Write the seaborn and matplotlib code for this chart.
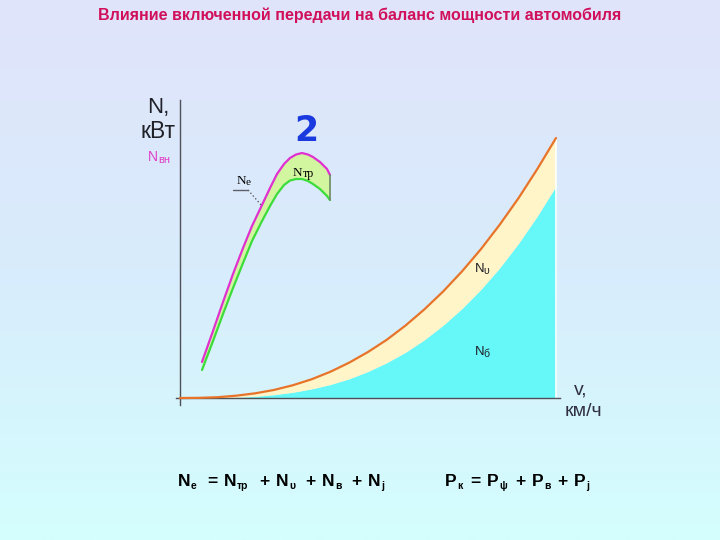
import numpy as np
import pandas as pd
import matplotlib
matplotlib.use("Agg")
import matplotlib.pyplot as plt
from matplotlib.colors import LinearSegmentedColormap
from matplotlib.lines import Line2D
import seaborn as sns

# ---------------- data ----------------
# speed grid (arbitrary units, 0..100 = axis span of the resistance curves)
v = [0, 5, 10, 15, 20, 25, 30, 35, 40, 45, 50, 55, 60, 65, 70, 75, 80, 85, 90, 95, 100]
# N_psi + N_w : total resistance power (orange line)
N_total = [0, 0.06, 0.3, 0.9, 1.8, 3.1, 4.9, 7.2, 10.1, 13.6, 17.7, 22.4, 27.9, 34.1,
           41.0, 48.7, 57.2, 66.6, 76.8, 88.0, 100.0]
# N_psi : road resistance power (cyan area)
N_psi = [0, 0.01, 0.08, 0.28, 0.65, 1.27, 2.2, 3.5, 5.2, 7.4, 10.2, 13.6, 17.6, 22.4,
         28.0, 34.4, 41.7, 50.0, 59.4, 69.9, 81.5]

# engine power curve for 2nd gear
v_e = [5.85, 8.78, 11.44, 14.10, 16.76, 19.15, 21.81, 23.94, 25.80, 27.66, 29.26,
       30.85, 32.45, 34.04, 35.37, 37.23, 39.10, 39.89]
N_e = [13.85, 25.77, 36.92, 47.69, 57.69, 66.15, 74.23, 80.77, 86.15, 90.0, 92.31,
       93.65, 94.23, 93.65, 92.69, 90.77, 88.08, 85.77]                    # magenta
N_e_tr = [10.77, 21.92, 32.31, 42.31, 51.92, 60.38, 68.08, 73.85, 78.46, 81.92, 83.65,
          84.23, 84.23, 83.46, 82.31, 80.38, 77.69, 76.15]                  # green

title = "Влияние включенной передачи на баланс мощности автомобиля"

# ---------------- figure ----------------
sns.set_theme(style="white")
plt.rcParams["font.family"] = ["Liberation Sans", "DejaVu Sans"]

W, H = 720, 540
fig = plt.figure(figsize=(7.2, 5.4), dpi=100)

# gradient background
bg = fig.add_axes([0, 0, 1, 1])
bg.axis("off")
grad = np.linspace(0, 1, 256)[:, None]
cmap = LinearSegmentedColormap.from_list("bg", ["#E0E4FA", "#D8ECFC", "#D4FEFE"])
bg.imshow(grad, aspect="auto", cmap=cmap, extent=[0, 1, 0, 1], origin="upper")
bg.set_xlim(0, 1)
bg.set_ylim(0, 1)

# main axes in pixel layout
X0, Y0 = 180, 398      # origin in pixels
sx, sy = 3.76, 2.6     # pixels per unit
left_px, right_px, top_px, bot_px = 176, 560, 100, 405
ax = fig.add_axes([left_px / W, 1 - bot_px / H, (right_px - left_px) / W, (bot_px - top_px) / H])
ax.set_xlim((left_px - X0) / sx, (right_px - X0) / sx)
ax.set_ylim((Y0 - bot_px) / sy, (Y0 - top_px) / sy)
ax.patch.set_alpha(0)
for s in ["top", "right"]:
    ax.spines[s].set_visible(False)
for s in ["left", "bottom"]:
    ax.spines[s].set_position(("data", 0))
    ax.spines[s].set_color("#505058")
    ax.spines[s].set_linewidth(1.0)
ax.set_xticks([])
ax.set_yticks([])

df = pd.DataFrame({"v": v, "total": N_total, "psi": N_psi})
de = pd.DataFrame({"v": v_e, "ne": N_e, "netr": N_e_tr})

# resistance areas
ax.fill_between(df["v"], 0, df["psi"], color="#66F8F8", lw=0, zorder=1)
ax.fill_between(df["v"], df["psi"], df["total"], color="#FFF5C8", lw=0, zorder=1)
sns.lineplot(data=df, x="v", y="total", color="#E8742A", lw=1.6, ax=ax,
             sort=False, estimator=None, zorder=3)
ax.plot([df["v"].iloc[-1]] * 2, [0, df["total"].iloc[-1]], color="white", lw=1.2, zorder=2)

# engine power band
ax.fill_between(de["v"], de["netr"], de["ne"], color="#D2F5A0", lw=0, zorder=1)
sns.lineplot(data=de, x="v", y="ne", color="#E030D0", lw=1.6, ax=ax,
             sort=False, estimator=None, zorder=3)
sns.lineplot(data=de, x="v", y="netr", color="#3CDC3C", lw=1.6, ax=ax,
             sort=False, estimator=None, zorder=3)
ax.plot([de["v"].iloc[-1]] * 2, [de["netr"].iloc[-1], de["ne"].iloc[-1]],
        color="#6A8A6A", lw=1.2, zorder=3)
ax.set_xlabel("")
ax.set_ylabel("")

# ---------------- texts ----------------
SANS = ["Liberation Sans", "DejaVu Sans"]
SERIF = ["Liberation Serif", "DejaVu Serif"]


def ftext(x, y, s, **kw):
    return fig.text(x / W, 1 - y / H, s, **kw)


def place(y_base, parts, size, color="black", weight="normal", family=SANS,
          sub_scale=0.62, drop=3):
    for x, s, kind in parts:
        fs = size * sub_scale if kind == "s" else size
        yy = y_base + (drop if kind == "s" else 0)
        ftext(x, yy, s, fontsize=fs, color=color, fontweight=weight,
              family=family, ha="left", va="baseline")


ftext(360, 15, title, ha="center", va="center", fontsize=11.5, fontweight="bold",
      color="#D0105A")

ftext(158, 107, "N,", ha="center", va="center", fontsize=16, color="#202028")
ftext(158, 131, "кВт", ha="center", va="center", fontsize=16.5, color="#202028")
place(161, [(148, "N", "m"), (158, "вн", "s")], 10, color="#E040C8", drop=2, sub_scale=0.8)

ftext(306, 131, "2", ha="center", va="center", fontsize=25, fontweight="bold",
      color="#1A3AE0", family=["DejaVu Sans"])

place(176, [(293, "N", "m"), (302.5, "тр", "s")], 9.5, family=SERIF, sub_scale=0.9, drop=1)
place(184, [(237, "N", "m"), (245.5, "е", "s")], 9.5, family=SERIF, sub_scale=0.85, drop=1)
fig.add_artist(Line2D([233 / W, 248 / W], [1 - 190 / H, 1 - 190 / H],
                      transform=fig.transFigure, color="#606068", lw=1))
fig.add_artist(Line2D([248 / W, 262 / W], [1 - 190 / H, 1 - 206 / H],
                      transform=fig.transFigure, color="#606068", lw=1, ls=":"))

place(272, [(475, "N", "m"), (483.5, "υ", "s")], 9.5, color="#202028", sub_scale=0.8, drop=2)
place(355, [(475, "N", "m"), (483.5, "б", "s")], 9.5, color="#202028", sub_scale=0.8, drop=2)

ftext(581, 390, "v,", ha="center", va="center", fontsize=14, color="#303040")
ftext(583, 412, "км/ч", ha="center", va="center", fontsize=14, color="#303040")

# formulas
place(486, [(178, "N", "m"), (191, "е", "s"), (207, "=", "m"), (224, "N", "m"),
            (237, "тр", "s"), (259, "+", "m"), (276, "N", "m"), (289, "υ", "s"),
            (305, "+", "m"), (322, "N", "m"), (335, "в", "s"), (351, "+", "m"),
            (368, "N", "m"), (381, "j", "s")],
      12.5, weight="bold", sub_scale=0.6, drop=3)
place(486, [(445, "P", "m"), (457, "к", "s"), (470, "=", "m"), (487, "P", "m"),
            (499, "ψ", "s"), (515, "+", "m"), (532, "P", "m"), (544, "в", "s"),
            (557, "+", "m"), (574, "P", "m"), (586, "j", "s")],
      12.5, weight="bold", sub_scale=0.6, drop=3)

fig.savefig("out.png", dpi=100)
